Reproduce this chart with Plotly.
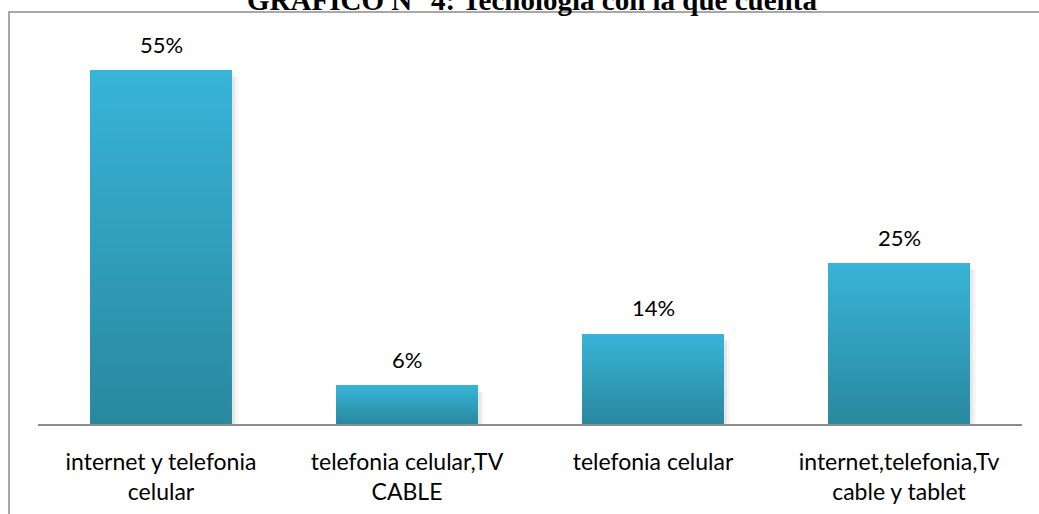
import plotly.graph_objects as go

categories = ["internet y telefonia<br>celular", "telefonia celular,TV<br>CABLE",
              "telefonia celular", "internet,telefonia,Tv<br>cable y tablet"]
values = [0.55, 0.06, 0.14, 0.25]
labels = ["55%", "6%", "14%", "25%"]
title_text = "GRÁFICO N° 4: Tecnología con la que cuenta"

TOP = "#38B4D8"
BOTTOM = "#29889E"
W = 0.577

fig = go.Figure()
idx = list(range(len(categories)))

# soft shadow (offset copies, same values)
for k, a in [(0.012, 0.06), (0.024, 0.04)]:
    for i, v in zip(idx, values):
        fig.add_trace(go.Scatter(
            x=[i - W / 2 + k, i + W / 2 + k, i + W / 2 + k, i - W / 2 + k, i - W / 2 + k],
            y=[-0.004, -0.004, v - 0.01, v - 0.01, -0.004], mode="lines", line=dict(width=0),
            fill="toself", fillcolor=f"rgba(0,0,0,{a})", hoverinfo="skip", showlegend=False))

# base bars
fig.add_trace(go.Bar(x=idx, y=values, width=W, marker=dict(color=TOP, line=dict(width=0)),
                     hoverinfo="skip", showlegend=False))

# gradient overlays, built from the same values
for i, v in zip(idx, values):
    fig.add_trace(go.Scatter(
        x=[i - W / 2, i + W / 2, i + W / 2, i - W / 2, i - W / 2],
        y=[0, 0, v, v, 0], mode="lines", line=dict(width=0),
        fill="toself",
        fillgradient=dict(type="vertical", colorscale=[[0, BOTTOM], [1, TOP]]),
        hoverinfo="skip", showlegend=False))

annotations = [dict(x=i, y=v, text=t, showarrow=False, xref="x", yref="y",
                    yanchor="middle", yshift=26,
                    font=dict(family="Lato", size=22, color="#000000"))
               for i, v, t in zip(idx, values, labels)]

L, R, T, B = 38, 17, 38, 90
pw, ph = 1039 - L - R, 514 - T - B
x0 = (9 - L) / pw
x1 = (1039 - L) / pw
ytop = (ph - (12 - T)) / ph
ybot = -(514 - T - ph) / ph

fig.update_layout(
    width=1039, height=514,
    margin=dict(l=L, r=R, t=T, b=B, autoexpand=False),
    plot_bgcolor="white", paper_bgcolor="white",
    title=dict(text=title_text, x=0.512, xanchor="center", y=1.0, yanchor="middle",
               yref="container", automargin=False,
               font=dict(family="Liberation Serif", size=29, color="#000000", weight="bold")),
    xaxis=dict(range=[-0.5, 3.5], tickvals=idx, ticktext=categories, automargin=False,
               showline=True, linecolor="#8C8C8C", linewidth=2, showgrid=False,
               zeroline=False, ticks="", ticklabelstandoff=16,
               tickfont=dict(family="Lato", size=23, color="#000000")),
    yaxis=dict(range=[0, 0.6], visible=False, showgrid=False, zeroline=False, automargin=False),
    shapes=[dict(type="path", xref="paper", yref="paper",
                 path=f"M {x0} {ybot} L {x0} {ytop} L {x1} {ytop}",
                 line=dict(color="#8C8C8C", width=1.5))],
    annotations=annotations,
    bargap=0,
)

fig.write_html("out.html", config={"displayModeBar": False},
               post_script="document.body.style.margin='0';")
